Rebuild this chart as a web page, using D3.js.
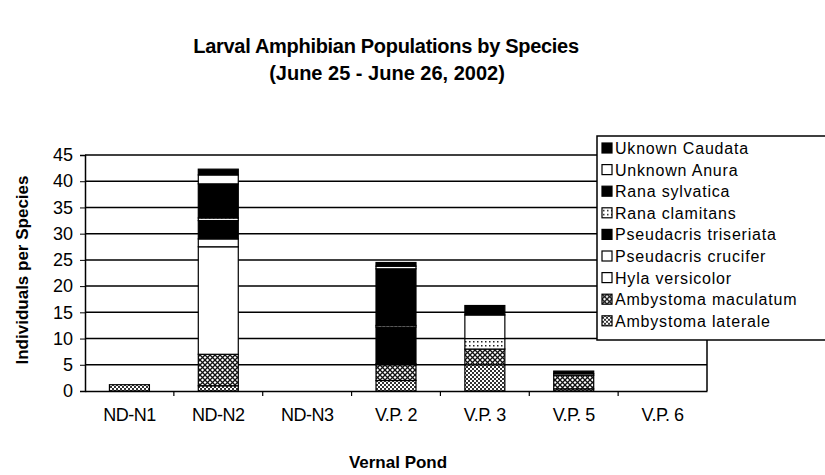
<!DOCTYPE html>
<html>
<head>
<meta charset="utf-8">
<script src="https://cdn.jsdelivr.net/npm/d3@7"></script>
<style>
  body { margin: 0; background: #fff; }
  text { font-family: "Liberation Sans", Arial, sans-serif; fill: #000; }
</style>
</head>
<body>
<div id="chart"></div>
<script>
var ponds = ["ND-N1", "ND-N2", "ND-N3", "V.P. 2", "V.P. 3", "V.P. 5", "V.P. 6"];

// series listed bottom of stack first
var ambystomaLaterale   = [1.2, 1,   0, 2,   5,   0.4, 0];
var ambystomaMaculatum  = [0,   6,   0, 3,   3,   2.6, 0];
var hylaVersicolor      = [0,   20.5,0, 0,   0,   0.3, 0];
var pseudacrisCrucifer  = [0,   1.5, 0, 0.2, 0,   0,   0];
var pseudacrisTriseriata= [0,   3.5, 0, 7,   0,   0.5, 0];
var ranaClamitans       = [0,   0.5, 0, 0.3, 2,   0,   0];
var ranaSylvatica       = [0,   6.5, 0, 10.8,0,   0,   0];
var unknownAnura        = [0,   1.7, 0, 0.5, 4.5, 0,   0];
var uknownCaudata       = [0,   1.1, 0, 0.7, 1.8, 0,   0];

var seriesNames = ["Ambystoma laterale", "Ambystoma maculatum", "Hyla versicolor",
  "Pseudacris crucifer", "Pseudacris triseriata", "Rana clamitans",
  "Rana sylvatica", "Unknown Anura", "Uknown Caudata"];
var seriesValues = [ambystomaLaterale, ambystomaMaculatum, hylaVersicolor,
  pseudacrisCrucifer, pseudacrisTriseriata, ranaClamitans,
  ranaSylvatica, unknownAnura, uknownCaudata];
var seriesFills = ["url(#checker)", "url(#cross)", "#fff", "#fff", "#000",
  "url(#dots)", "#000", "#fff", "#000"];

var yTicks = [0, 5, 10, 15, 20, 25, 30, 35, 40, 45];

var width = 825, height = 475;
var plot = { left: 85, right: 707, top: 155, bottom: 391 };

var svg = d3.select("#chart").append("svg")
  .attr("width", width)
  .attr("height", height);

var defs = svg.append("defs");

var checker = defs.append("pattern").attr("id", "checker")
  .attr("width", 4).attr("height", 4).attr("patternUnits", "userSpaceOnUse");
checker.append("rect").attr("width", 4).attr("height", 4).attr("fill", "#fff");
checker.append("rect").attr("width", 2).attr("height", 2).attr("fill", "#333");
checker.append("rect").attr("x", 2).attr("y", 2).attr("width", 2).attr("height", 2).attr("fill", "#333");

var cross = defs.append("pattern").attr("id", "cross")
  .attr("width", 5).attr("height", 5).attr("patternUnits", "userSpaceOnUse");
cross.append("rect").attr("width", 5).attr("height", 5).attr("fill", "#fff");
cross.append("path").attr("d", "M0,0L5,5M5,0L0,5").attr("stroke", "#111").attr("stroke-width", 1.3);

var dots = defs.append("pattern").attr("id", "dots")
  .attr("width", 4).attr("height", 4).attr("patternUnits", "userSpaceOnUse");
dots.append("rect").attr("width", 4).attr("height", 4).attr("fill", "#fff");
dots.append("rect").attr("x", 1).attr("y", 1).attr("width", 1.5).attr("height", 1.5).attr("fill", "#222");

var x = d3.scaleBand()
  .domain(ponds)
  .range([plot.left, plot.right])
  .paddingInner(0.55)
  .paddingOuter(0.275);

var y = d3.scaleLinear()
  .domain([0, 45])
  .range([plot.bottom, plot.top]);

// gridlines
svg.append("g").selectAll("line")
  .data(yTicks.filter(d => d > 0))
  .enter().append("line")
  .attr("x1", plot.left).attr("x2", plot.right)
  .attr("y1", d => y(d)).attr("y2", d => y(d))
  .attr("stroke", "#000").attr("stroke-width", 1.5);

svg.append("line")
  .attr("x1", plot.right).attr("x2", plot.right)
  .attr("y1", plot.top).attr("y2", plot.bottom)
  .attr("stroke", "#000").attr("stroke-width", 1.5);

// stacked bars
var table = ponds.map(function(p, i) {
  var row = { pond: p };
  seriesNames.forEach(function(n, j) { row[n] = seriesValues[j][i]; });
  return row;
});
var stacked = d3.stack().keys(seriesNames)(table);

svg.append("g").selectAll("g")
  .data(stacked)
  .enter().append("g")
  .attr("fill", (d, i) => seriesFills[i])
  .selectAll("rect")
  .data(d => d.filter(s => s[1] - s[0] > 0))
  .enter().append("rect")
  .attr("x", d => x(d.data.pond))
  .attr("width", x.bandwidth())
  .attr("y", d => y(d[1]))
  .attr("height", d => y(d[0]) - y(d[1]))
  .attr("stroke", "#000")
  .attr("stroke-width", 1.2);

// axes
var leftAxis = d3.axisLeft(y).tickValues(yTicks).tickSize(5).tickPadding(7);
var gy = svg.append("g")
  .attr("transform", `translate(${plot.left},0)`)
  .call(leftAxis);
gy.select(".domain").attr("stroke-width", 1.5);
gy.selectAll("text").style("font-size", "18px")
  .style("font-family", "'Liberation Sans', Arial, sans-serif");

var bottomAxis = d3.axisBottom(x).tickSize(0).tickPadding(17);
var gx = svg.append("g")
  .attr("transform", `translate(0,${plot.bottom})`)
  .call(bottomAxis);
gx.select(".domain").attr("stroke-width", 1.5);
gx.selectAll("text").style("font-size", "18px")
  .style("font-family", "'Liberation Sans', Arial, sans-serif")
  .style("letter-spacing", "-0.5px");

// tick marks between categories
svg.append("g").selectAll("line")
  .data(ponds.slice(1))
  .enter().append("line")
  .attr("x1", d => x(d) - x.step() * x.paddingInner() / 2)
  .attr("x2", d => x(d) - x.step() * x.paddingInner() / 2)
  .attr("y1", plot.bottom).attr("y2", plot.bottom + 5)
  .attr("stroke", "#000").attr("stroke-width", 1.2);

// titles
svg.append("text")
  .attr("x", 386).attr("y", 53)
  .attr("text-anchor", "middle")
  .style("font-size", "20px").style("font-weight", "bold")
  .style("letter-spacing", "-0.3px")
  .text("Larval Amphibian Populations by Species");

svg.append("text")
  .attr("x", 387).attr("y", 80)
  .attr("text-anchor", "middle")
  .style("font-size", "20px").style("font-weight", "bold")
  .text("(June 25 - June 26, 2002)");

svg.append("text")
  .attr("transform", "rotate(-90)")
  .attr("x", -270).attr("y", 28)
  .attr("text-anchor", "middle")
  .style("font-size", "17px").style("font-weight", "bold")
  .text("Individuals per Species");

svg.append("text")
  .attr("x", 398).attr("y", 468)
  .attr("text-anchor", "middle")
  .style("font-size", "17px").style("font-weight", "bold")
  .text("Vernal Pond");

// legend (top entry = top of stack)
var legend = svg.append("g").attr("transform", "translate(597,136)");
legend.append("rect")
  .attr("width", 240).attr("height", 204)
  .attr("fill", "#fff").attr("stroke", "#000").attr("stroke-width", 1.5);

var legendOrder = d3.range(seriesNames.length).reverse();
var item = legend.selectAll("g.item")
  .data(legendOrder)
  .enter().append("g")
  .attr("class", "item")
  .attr("transform", (d, i) => `translate(5,${12 + i * 21.6})`);

item.append("rect")
  .attr("y", -5).attr("width", 10).attr("height", 10)
  .attr("fill", d => seriesFills[d])
  .attr("stroke", "#000").attr("stroke-width", 1.2);

item.append("text")
  .attr("x", 13).attr("dy", "0.38em")
  .style("font-size", "16px")
  .style("letter-spacing", "0.8px")
  .text(d => seriesNames[d]);
</script>
</body>
</html>
